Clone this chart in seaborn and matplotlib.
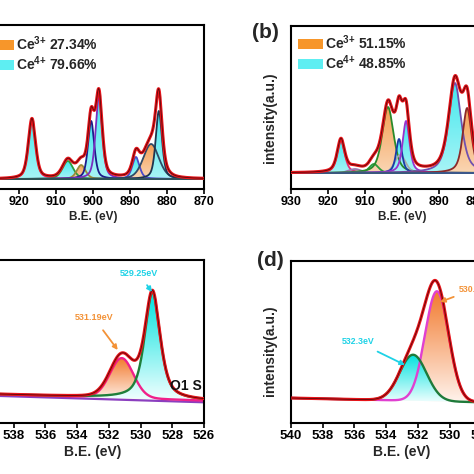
import numpy as np
import pandas as pd
import matplotlib
matplotlib.use("Agg")
import matplotlib.pyplot as plt
import seaborn as sns
from matplotlib.colors import LinearSegmentedColormap
from matplotlib.patches import Patch

# ---------------- data ----------------
# (a) Ce 3d fit components: centre (eV), height, FWHM (eV), Lorentz fraction
a_center = [916.5, 906.8, 903.2, 900.5, 898.4, 888.4, 884.3, 882.2]
a_height = [60, 18, 14, 58, 82, 22, 35, 68]
a_fwhm = [2.3, 3.4, 2.8, 2.0, 2.1, 2.3, 5.0, 2.0]
a_eta = [0.5, 0.4, 0.4, 0.5, 0.5, 0.5, 0.3, 0.5]
a_state = ["Ce4+", "Ce4+", "Ce3+", "Ce4+", "Ce4+", "Ce4+", "Ce3+", "Ce4+"]
a_base = [10, 10]                 # background at 930 / 870 eV
a_pct = ["27.34%", "79.66%"]

# (b) Ce 3d
b_center = [916.5, 912.7, 907.6, 903.8, 900.5, 900.8, 898.9, 885.7, 882.4]
b_height = [33, 4, 9, 66, 18, 34, 52, 90, 65]
b_fwhm = [2.4, 4.0, 3.0, 3.6, 3.5, 1.9, 2.2, 4.0, 2.8]
b_eta = [0.6, 0.3, 0.4, 0.5, 0.2, 0.6, 0.6, 0.6, 0.6]
b_state = ["Ce4+", "other", "Ce4+", "Ce3+", "other", "Ce4+", "Ce4+", "Ce4+", "Ce3+"]
b_base = [16, 16]
b_pct = ["51.15%", "48.85%"]

# (c) O 1s
c_center = [531.19, 529.25]
c_height = [40, 107]
c_fwhm = [1.75, 1.15]
c_eta = [0.1, 0.6]
c_state = ["Ce3+", "Ce4+"]
c_base = [29.3, 22.3]             # fit background at 540 / 526 eV
c_line = [27.6, 20.7]             # drawn baseline at 540 / 526 eV
c_labels = ["531.19eV", "529.25eV"]

# (d) O 1s
d_center = [530.8, 532.3]
d_height = [110, 46]
d_fwhm = [1.75, 2.0]
d_eta = [0.0, 0.0]
d_state = ["Ce3+", "Ce4+"]
d_base = [25, 20]
d_labels = ["530.8eV", "532.3eV"]

ce_ticks_a = [920, 910, 900, 890, 880, 870]
ce_ticks_b = [930, 920, 910, 900, 890, 880, 870]
o_ticks_c = [538, 536, 534, 532, 530, 528, 526]
o_ticks_d = [540, 538, 536, 534, 532, 530, 528, 526]
legend_names = [r"Ce$^{3{+}}$", r"Ce$^{4{+}}$"]

# ---------------- style ----------------
sns.set_theme(style="white")
plt.rcParams["font.family"] = ["Liberation Sans", "DejaVu Sans"]
plt.rcParams["font.weight"] = "bold"
plt.rcParams["axes.labelweight"] = "bold"
plt.rcParams["mathtext.fontset"] = "custom"
plt.rcParams["mathtext.rm"] = "Liberation Sans:bold"
plt.rcParams["mathtext.it"] = "Liberation Sans:bold"
plt.rcParams["mathtext.bf"] = "Liberation Sans:bold"

GRAD_AB = {"Ce4+": ("#45E8EE", "#A8F4F6"), "Ce3+": ("#F5A055", "#FAD6B4"),
           "other": ("#D4D4D4", "#F2F2F2")}
GRAD_CD = {"Ce4+": ("#00E2DE", "#F2FFFF"), "Ce3+": ("#F27A2E", "#FFF4EE")}
LEG_COL = ["#F7962A", "#5EEEF2"]

a_edge = ["#E23FC9", "#2E9B3A", "#9A8C3A", "#1C1C8A", "#7A2EC0", "#4B4BC8", "#2F4A66", "#1F3550"]
b_edge = ["#E0307A", "#9A7AB0", "#2E9B3A", "#2A8A2A", "#A8A8A8", "#1A3AA8", "#9A32CC", "#7050B0", "#8B2A2A"]
c_edge = ["#F0208A", "#1F7F3A"]
d_edge = ["#E040D0", "#1E7A3A"]


def pv(E, c, h, w, eta):
    g = np.exp(-4 * np.log(2) * ((E - c) / w) ** 2)
    l = 1.0 / (1 + 4 * ((E - c) / w) ** 2)
    return h * ((1 - eta) * g + eta * l)


def grad_fill(ax, x, y0, y1, top, bottom, z):
    poly = ax.fill_between(x, y0, y1, facecolor="none", edgecolor="none", zorder=z)
    path = poly.get_paths()[0]
    cmap = LinearSegmentedColormap.from_list("g", [bottom, top])
    grad = np.linspace(0, 1, 256).reshape(-1, 1)
    im = ax.imshow(grad, extent=[x.min(), x.max(), y0.min(), y1.max()], origin="lower",
                   aspect="auto", cmap=cmap, zorder=z, interpolation="bilinear")
    im.set_clip_path(path, transform=ax.transData)


def draw(ax, E, base, centers, heights, fwhms, etas, states, edges, grads, lwc=1.3):
    comps = [pv(E, c, h, w, e) for c, h, w, e in zip(centers, heights, fwhms, etas)]
    for i, (comp, st) in enumerate(zip(comps, states)):
        top, bot = grads[st]
        grad_fill(ax, E, base, base + comp, top, bot, 1 + 0.01 * i)
    for i, comp in enumerate(comps):
        sns.lineplot(x=E, y=base + comp, ax=ax, color=edges[i], lw=lwc,
                     zorder=2 + 0.01 * i, legend=False)
    env = base + np.sum(comps, axis=0)
    sns.lineplot(x=E, y=env, ax=ax, color="#E8141A", lw=2.2, zorder=4, legend=False)
    sns.lineplot(x=E, y=env, ax=ax, color="black", lw=0.6, alpha=0.6, zorder=5, legend=False)
    return env


def style_axes(ax, xlim, ylim, ticks, tfs):
    ax.set_xlim(*xlim)
    ax.set_ylim(*ylim)
    ax.set_xticks(ticks)
    ax.set_xticklabels([str(t) for t in ticks])
    ax.set_yticks([])
    ax.tick_params(axis="x", direction="out", length=3.5, width=1.2, pad=1.5,
                   labelsize=tfs, bottom=True, colors="black")
    for s in ax.spines.values():
        s.set_visible(True)
        s.set_color("black")
        s.set_linewidth(1.5)
    ax.set_ylabel("")


W = 474.0
fig = plt.figure(figsize=(4.74, 4.74), dpi=100)
fig.patch.set_facecolor("white")


def add_ax(l, t, r, b):
    return fig.add_axes([l / W, 1 - b / W, (r - l) / W, (b - t) / W])


axa = add_ax(-18, 25, 204, 189)
axb = add_ax(291, 26, 513, 189)
axc = add_ax(-18, 260, 204, 423)
axd = add_ax(291, 261, 513, 423)

# ---- (a)
E1 = np.linspace(930, 870, 1500)
base_a = np.interp(E1, [870, 930], a_base[::-1])
draw(axa, E1, base_a, a_center, a_height, a_fwhm, a_eta, a_state, a_edge, GRAD_AB)
sns.lineplot(x=E1, y=base_a, ax=axa, color="#2F5656", lw=1.3, zorder=3, legend=False)
style_axes(axa, (930, 870), (0, 164), ce_ticks_a, 9)

# ---- (b)
base_b = np.interp(E1, [870, 930], b_base[::-1])
draw(axb, E1, base_b, b_center, b_height, b_fwhm, b_eta, b_state, b_edge, GRAD_AB)
sns.lineplot(x=E1, y=base_b, ax=axb, color="#335C85", lw=1.3, zorder=3, legend=False)
style_axes(axb, (930, 870), (0, 163), ce_ticks_b, 9)

# ---- (c)
E2 = np.linspace(540, 526, 1500)
base_c = np.interp(E2, [526, 540], c_base[::-1])
line_c = np.interp(E2, [526, 540], c_line[::-1])
sns.lineplot(x=E2, y=line_c, ax=axc, color="#8B3FBF", lw=1.6, zorder=1.9, legend=False)
draw(axc, E2, base_c, c_center, c_height, c_fwhm, c_eta, c_state, c_edge, GRAD_CD, lwc=1.7)
style_axes(axc, (540, 526), (0, 163), o_ticks_c, 9.5)

# ---- (d)
base_d = np.interp(E2, [526, 540], d_base[::-1])
draw(axd, E2, base_d, d_center, d_height, d_fwhm, d_eta, d_state, d_edge, GRAD_CD, lwc=1.7)
style_axes(axd, (540, 526), (0, 162), o_ticks_d, 9.5)

# labels
for ax, fs in [(axa, 8.5), (axb, 8.5), (axc, 10), (axd, 10)]:
    ax.set_xlabel("B.E. (eV)", fontsize=fs, fontweight="bold", labelpad=2)
for ax, yc in [(axb, 0.44), (axd, 0.444)]:
    ax.set_ylabel("intensity(a.u.)", fontsize=10, fontweight="bold")
    ax.yaxis.set_label_coords(-0.063, yc)

# legends
for ax, pct, y0 in [(axa, a_pct, 0.945), (axb, b_pct, 0.957)]:
    handles = [Patch(facecolor=LEG_COL[i], edgecolor="none") for i in range(2)]
    labels = [f"{legend_names[i]} {pct[i]}" for i in range(2)]
    ax.legend(handles, labels, loc="upper left", bbox_to_anchor=(0.03, y0),
              frameon=False, handlelength=1.8, handleheight=0.7, handletextpad=0.2,
              labelspacing=0.1, borderpad=0, borderaxespad=0,
              prop={"size": 10, "weight": "bold"})

# annotations (c)
axc.annotate(c_labels[1], xy=(529.28, 131), xytext=(530.1, 149), color="#1ED2E6",
             fontsize=6.5, fontweight="bold", ha="center", va="center",
             arrowprops=dict(arrowstyle="-|>", color="#1ED2E6", lw=1.3,
                             mutation_scale=7, shrinkA=3, shrinkB=0), zorder=6)
axc.annotate(c_labels[0], xy=(531.44, 73), xytext=(532.94, 105), color="#F39237",
             fontsize=6.5, fontweight="bold", ha="center", va="center",
             arrowprops=dict(arrowstyle="-|>", color="#F39237", lw=1.3,
                             mutation_scale=7, shrinkA=4, shrinkB=0), zorder=6)
axc.text(526.15, 37, "O1 S", fontsize=10, fontweight="bold", ha="right", va="center",
         color="#111111", zorder=6)

# annotations (d)
axd.annotate(d_labels[1], xy=(532.81, 58), xytext=(535.78, 81), color="#1ED2E6",
             fontsize=6.3, fontweight="bold", ha="center", va="center",
             arrowprops=dict(arrowstyle="-|>", color="#1ED2E6", lw=1.3,
                             mutation_scale=7, shrinkA=3, shrinkB=0), zorder=6)
axd.annotate(d_labels[0], xy=(530.6, 121), xytext=(529.45, 134), color="#F39237",
             fontsize=6.3, fontweight="bold", ha="left", va="center",
             arrowprops=dict(arrowstyle="-|>", color="#F39237", lw=1.3,
                             mutation_scale=7, shrinkA=1, shrinkB=0), zorder=6)

# panel letters
fig.text(265 / W, 1 - 32 / W, "(b)", fontsize=15, fontweight="bold", ha="center", va="center")
fig.text(270 / W, 1 - 261 / W, "(d)", fontsize=15, fontweight="bold", ha="center", va="center")

fig.savefig("out.png", dpi=100, facecolor="white")
